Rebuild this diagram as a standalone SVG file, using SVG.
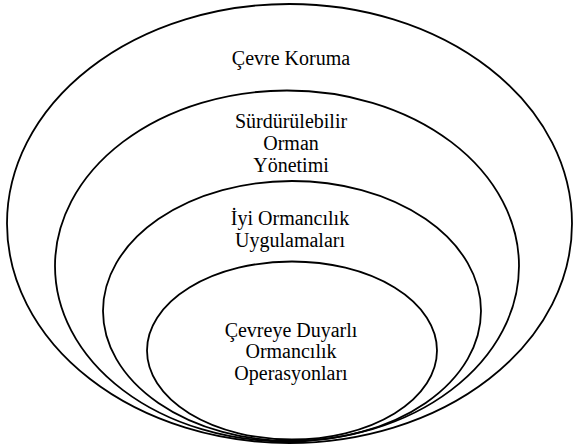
<svg xmlns="http://www.w3.org/2000/svg" width="573" height="447" viewBox="0 0 573 447">
<style>
.ring{fill:none;stroke:#000;stroke-width:1.8}
.lbl{font-family:'Liberation Serif','DejaVu Serif','Times New Roman',serif;font-size:20px;fill:#000;text-anchor:middle}
</style>
<rect width="573" height="447" fill="#fff"/>
<g id="node-cevre-koruma">
<ellipse class="ring" cx="289.5" cy="223.5" rx="282.5" ry="219.5"/>
<text class="lbl" x="291" y="65">Çevre Koruma</text>
</g>
<g id="node-surdurulebilir">
<ellipse class="ring" cx="287" cy="266" rx="232" ry="175.5"/>
<text class="lbl" x="291" y="128">Sürdürülebilir</text>
<text class="lbl" x="291" y="150">Orman</text>
<text class="lbl" x="291" y="172">Yönetimi</text>
</g>
<g id="node-iyi-ormancilik">
<ellipse class="ring" cx="292" cy="311" rx="189" ry="130"/>
<text class="lbl" x="290" y="225">İyi Ormancılık</text>
<text class="lbl" x="290" y="247">Uygulamaları</text>
</g>
<g id="node-cevreye-duyarli">
<ellipse class="ring" cx="292" cy="350.5" rx="145" ry="89"/>
<text class="lbl" x="291" y="337">Çevreye Duyarlı</text>
<text class="lbl" x="291" y="358">Ormancılık</text>
<text class="lbl" x="291" y="380">Operasyonları</text>
</g>
<g id="connectors"></g>
</svg>
